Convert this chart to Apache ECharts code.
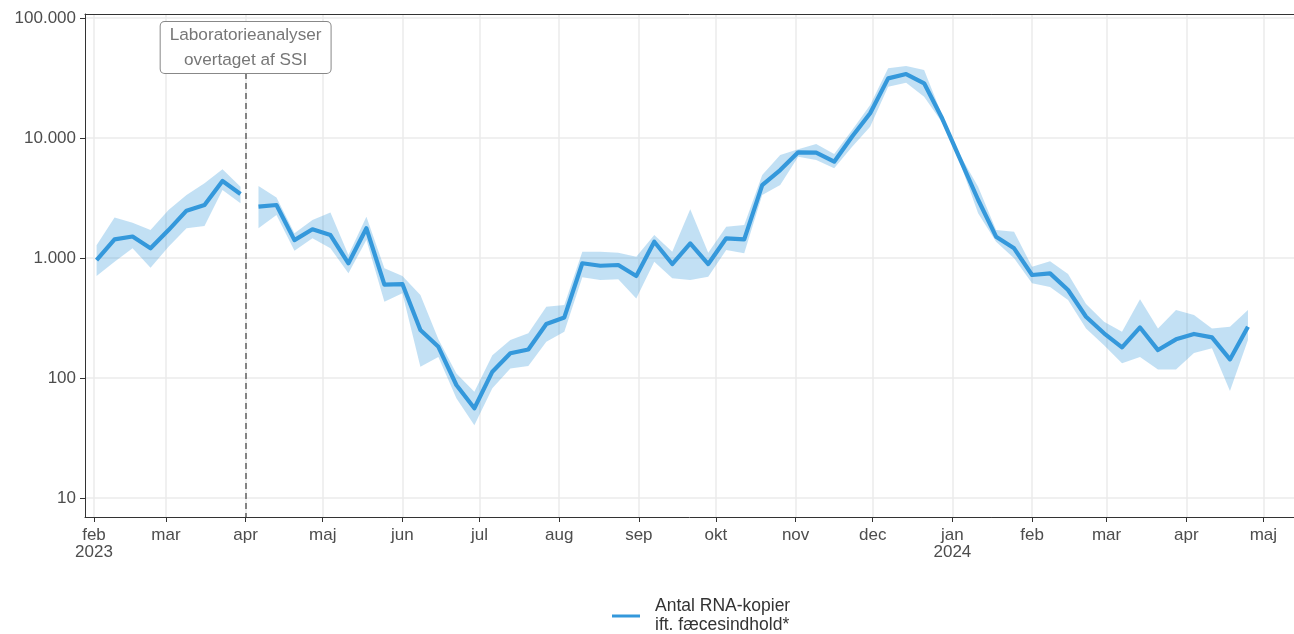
<!DOCTYPE html>
<html>
<head>
<meta charset="utf-8">
<script src="https://cdn.jsdelivr.net/npm/echarts@6/dist/echarts.min.js"></script>
<style>
html,body{margin:0;padding:0;background:#fff;}
#chart{width:1294px;height:634px;}
</style>
</head>
<body>
<div id="chart"></div>
<script>
// ---- data ----
const dates = [
  '2023-02-02','2023-02-09','2023-02-16','2023-02-23',
  '2023-03-02','2023-03-09','2023-03-16','2023-03-23','2023-03-30',
  '2023-04-06','2023-04-13','2023-04-20','2023-04-27',
  '2023-05-04','2023-05-11','2023-05-18','2023-05-25',
  '2023-06-01','2023-06-08','2023-06-15','2023-06-22','2023-06-29',
  '2023-07-06','2023-07-13','2023-07-20','2023-07-27',
  '2023-08-03','2023-08-10','2023-08-17','2023-08-24','2023-08-31',
  '2023-09-07','2023-09-14','2023-09-21','2023-09-28',
  '2023-10-05','2023-10-12','2023-10-19','2023-10-26',
  '2023-11-02','2023-11-09','2023-11-16','2023-11-23','2023-11-30',
  '2023-12-07','2023-12-14','2023-12-21','2023-12-28',
  '2024-01-04','2024-01-11','2024-01-18','2024-01-25',
  '2024-02-01','2024-02-08','2024-02-15','2024-02-22','2024-02-29',
  '2024-03-07','2024-03-14','2024-03-21','2024-03-28',
  '2024-04-04','2024-04-11','2024-04-18','2024-04-25'
];
const rnaValues = [
  960, 1430, 1510, 1205, 1710, 2480, 2765, 4380, 3415,
  2680, 2765, 1410, 1735, 1555, 904, 1770, 600,
  607, 251, 182, 87.5, 56,
  113, 161, 173, 282,
  320, 904, 862, 875, 708,
  1367, 891, 1325, 891,
  1460, 1430, 4055, 5410,
  7600, 7550, 6350, 10300, 16060,
  31420, 34120, 28560, 14590,
  6680, 3060, 1506, 1205,
  722, 745, 541, 324, 236,
  180, 264, 171, 210,
  233, 218, 143, 268
];
const rnaLower = [
  708, 930, 1205, 830, 1240, 1770, 1850, 3690, 2860,
  1770, 2280, 1150, 1460, 1205, 745, 1410, 432,
  508, 124, 150, 68, 40.5,
  82, 120, 126, 201,
  243, 690, 656, 664, 461,
  931, 678, 656, 699,
  1166, 1095, 3350, 4055,
  6990, 6560, 5590, 8470, 12420,
  26760, 28900, 22080, 13500,
  6200, 2360, 1367, 994,
  615, 574, 447, 259, 188,
  133, 150, 118, 118,
  162, 177, 78, 207
];
const rnaUpper = [
  1280, 2180, 1970, 1710, 2510, 3350, 4190, 5480, 3930,
  3980, 3200, 1610, 2075, 2390, 1060, 2210, 820,
  708, 492, 210, 109, 77,
  155, 207, 236, 393,
  406, 1130, 1130, 1107, 1025,
  1555, 1130, 2545, 1107,
  1823, 1884, 4920, 7215,
  8050, 8910, 7360, 11660, 18840,
  38080, 39800, 36880, 15500,
  7200, 3930, 1710, 1655,
  847, 940, 735, 414, 294,
  243, 453, 259, 369,
  335, 259, 268, 369
];
const ssiDate = '2023-04-01';
const ssiText = 'Laboratorieanalyser\novertaget af SSI';
const seriesName = 'Antal RNA-kopier\nift. fæcesindhold*';
const monthNames = ['jan','feb','mar','apr','maj','jun','jul','aug','sep','okt','nov','dec'];
const monthTicks = [
  '2023-02-01','2023-03-01','2023-04-01','2023-05-01','2023-06-01','2023-07-01',
  '2023-08-01','2023-09-01','2023-10-01','2023-11-01','2023-12-01','2024-01-01',
  '2024-02-01','2024-03-01','2024-04-01','2024-05-01'
];
const yTicks = [10, 100, 1000, 10000, 100000];

// ---- helpers ----
const toTime = s => { const p = s.split('-').map(Number); return Date.UTC(p[0], p[1]-1, p[2]); };
const ssiTime = toTime(ssiDate);
const times = dates.map(toTime);
const beforeIdx = [], afterIdx = [];
times.forEach((t, i) => (t < ssiTime ? beforeIdx : afterIdx).push(i));
const segments = [beforeIdx, afterIdx];
const monthTickTimes = monthTicks.map(toTime);

const xMin = toTime('2023-01-28') + 12 * 3600e3;
const xMax = toTime('2024-05-12') + 22 * 3600e3;
const yMin = 6.95, yMax = 108000;

const lineColor = '#3498db';
const bandColor = 'rgba(52,152,219,0.30)';
const fontFam = '"Liberation Sans", Arial, sans-serif';

const fmtThousands = v => String(Math.round(v)).replace(/\B(?=(\d{3})+(?!\d))/g, '.');

const chart = echarts.init(document.getElementById('chart'));
chart.setOption({
  animation: false,
  backgroundColor: '#fff',
  grid: { left: 85, right: 0, top: 14, bottom: 117 },
  legend: {
    data: [seriesName],
    left: 607, top: 592,
    icon: 'rect', itemWidth: 28, itemHeight: 3,
    textStyle: { fontFamily: fontFam, fontSize: 17.5, color: '#333', lineHeight: 19, padding: [0,0,0,10] }
  },
  xAxis: [{
    type: 'value', min: xMin, max: xMax,
    axisLine: { show: true, lineStyle: { color: '#333', width: 1 } },
    axisTick: { show: true, length: 5, lineStyle: { color: '#333' }, customValues: monthTickTimes },
    axisLabel: {
      customValues: monthTickTimes,
      fontFamily: fontFam, fontSize: 17, color: '#4d4d4d', lineHeight: 17, margin: 10,
      formatter: v => {
        const d = new Date(v);
        const m = monthNames[d.getUTCMonth()];
        if (v === monthTickTimes[0] || d.getUTCMonth() === 0) return m + '\n' + d.getUTCFullYear();
        return m;
      }
    },
    splitLine: { show: true, lineStyle: { color: '#ebebeb', width: 1.5 } }
  }, {
    type: 'value', position: 'top', min: xMin, max: xMax,
    axisLine: { show: true, lineStyle: { color: '#333', width: 1 } },
    axisTick: { show: false }, axisLabel: { show: false }, splitLine: { show: false }
  }],
  yAxis: {
    type: 'log', logBase: 10, min: yMin, max: yMax,
    axisLine: { show: true, lineStyle: { color: '#333', width: 1 } },
    axisTick: { show: true, length: 5, lineStyle: { color: '#333' }, customValues: yTicks },
    axisLabel: {
      customValues: yTicks,
      fontFamily: fontFam, fontSize: 17, color: '#4d4d4d', margin: 9,
      formatter: v => fmtThousands(v)
    },
    splitLine: { show: true, lineStyle: { color: '#ebebeb', width: 1.5 } }
  },
  series: [
    {
      type: 'custom',
      name: 'band',
      xAxisIndex: 0,
      clip: true,
      silent: true,
      data: segments.map(seg => [times[seg[0]], rnaValues[seg[0]]]),
      renderItem: (params, api) => {
        const seg = segments[params.dataIndex];
        const up = seg.map(i => api.coord([times[i], rnaUpper[i]]));
        const lo = seg.map(i => api.coord([times[i], rnaLower[i]])).reverse();
        return { type: 'polygon', shape: { points: up.concat(lo) }, style: { fill: bandColor } };
      },
      z: 1
    },
    {
      type: 'line', name: seriesName, xAxisIndex: 0,
      data: beforeIdx.map(i => [times[i], rnaValues[i]]),
      showSymbol: false, symbol: 'none',
      lineStyle: { color: lineColor, width: 4.2, join: 'round' },
      itemStyle: { color: lineColor },
      z: 3
    },
    {
      type: 'line', name: seriesName, xAxisIndex: 0,
      data: afterIdx.map(i => [times[i], rnaValues[i]]),
      showSymbol: false, symbol: 'none',
      lineStyle: { color: lineColor, width: 4.2, join: 'round' },
      itemStyle: { color: lineColor },
      z: 3,
      markLine: {
        silent: true, symbol: ['none', 'none'],
        lineStyle: { color: '#6a6a6a', width: 1.6, type: [6, 4] },
        label: {
          show: true, position: 'start', distance: 0,
          formatter: ssiText,
          fontFamily: fontFam, fontSize: 17.2, color: '#777', lineHeight: 25,
          backgroundColor: '#fff', borderColor: '#888', borderWidth: 1, borderRadius: 4,
          padding: [1, 9, 0, 9]
        },
        data: [[{ coord: [ssiTime, 34800] }, { coord: [ssiTime, yMin] }]]
      }
    }
  ]
});
</script>
</body>
</html>
